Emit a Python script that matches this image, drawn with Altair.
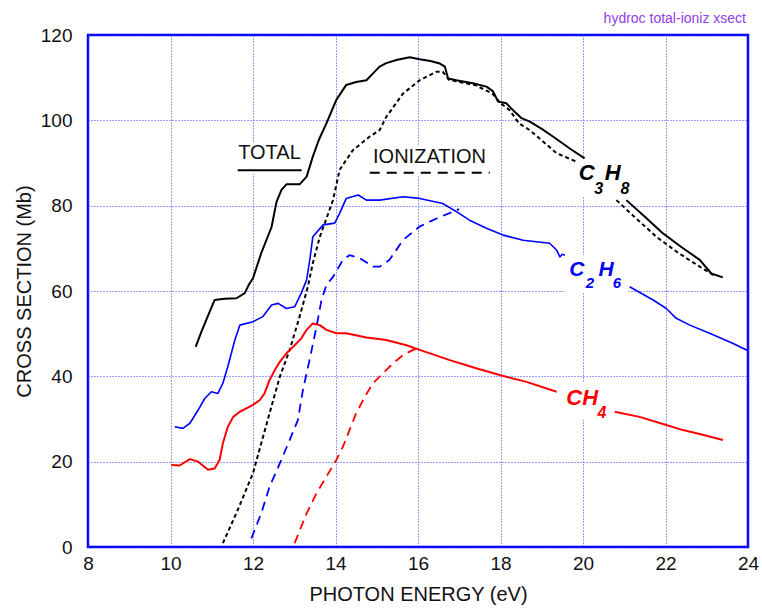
import altair as alt
import pandas as pd

# Photoabsorption (total) and photoionization cross sections of light hydrocarbons.
# Each curve is a list of (photon energy eV, cross section Mb) pairs; segments are
# broken where the formula labels sit on the curves.

c3h8_total_a = [(10.61, 46.9), (10.75, 50.5), (10.9, 54.0), (11.07, 57.9), (11.3, 58.2), (11.6, 58.3),
                (11.8, 59.5), (11.9, 61.5), (12.0, 63.0), (12.2, 68.9), (12.45, 75.0), (12.57, 80.9),
                (12.69, 83.7), (12.81, 85.0), (13.13, 85.0), (13.3, 86.8), (13.45, 91.5), (13.6, 95.5),
                (13.78, 99.3), (14.02, 104.8), (14.26, 108.3), (14.5, 109.0), (14.75, 109.4), (14.91, 111.0),
                (15.07, 112.6), (15.23, 113.4), (15.5, 114.2), (15.8, 114.8), (16.04, 114.3), (16.3, 113.9),
                (16.53, 113.3), (16.65, 112.6), (16.73, 109.8), (16.93, 109.4), (17.33, 108.7), (17.66, 107.9),
                (17.82, 106.8), (17.94, 104.4), (18.14, 104.0), (18.3, 102.4), (18.51, 100.5), (18.71, 99.7),
                (19.0, 98.0), (19.27, 96.2), (19.68, 93.4), (20.04, 91.1)]
c3h8_total_b = [(21.05, 81.3), (21.5, 77.4), (21.94, 73.5), (22.4, 70.2), (22.83, 67.3), (23.11, 64.1),
                (23.39, 63.2)]

c3h8_ion_a = [(11.27, 0.9), (11.6, 8.0), (12.0, 17.3), (12.2, 24.3), (12.4, 31.3), (12.65, 39.9),
              (12.89, 46.2), (13.13, 54.0), (13.33, 61.0), (13.45, 66.5), (13.62, 72.7), (13.94, 81.3),
              (14.1, 88.4), (14.42, 93.0), (14.83, 96.2), (15.07, 97.7), (15.23, 100.8), (15.64, 106.3),
              (16.04, 109.4), (16.45, 111.4), (16.6, 111.4), (16.75, 109.5), (17.0, 109.0), (17.4, 108.2),
              (17.8, 106.3), (18.0, 104.0), (18.22, 102.4), (18.45, 99.3), (18.71, 97.7), (19.36, 92.3),
              (19.84, 90.3)]
c3h8_ion_b = [(20.81, 81.3), (21.3, 76.9), (21.78, 72.7), (22.3, 69.0), (22.83, 65.7), (23.2, 63.5)]

c2h6_total_a = [(10.1, 28.2), (10.3, 27.8), (10.47, 29.0), (10.67, 32.1), (10.83, 34.8), (10.99, 36.4),
                (11.15, 36.0), (11.27, 38.4), (11.39, 42.3), (11.56, 48.5), (11.68, 52.0), (12.0, 52.8),
                (12.24, 54.0), (12.45, 56.7), (12.61, 57.1), (12.81, 55.9), (13.01, 56.3), (13.17, 59.5),
                (13.3, 62.6), (13.38, 67.5), (13.45, 72.7), (13.7, 75.5), (13.98, 75.9), (14.1, 78.2),
                (14.26, 81.7), (14.55, 82.5), (14.75, 81.3), (15.07, 81.3), (15.64, 82.1), (16.04, 81.7),
                (16.6, 80.5), (16.93, 78.6), (17.25, 76.6), (17.66, 74.7), (18.06, 73.1), (18.55, 71.9),
                (19.19, 71.2), (19.36, 69.6), (19.44, 68.0), (19.5, 68.6), (19.56, 68.4)]
c2h6_total_b = [(21.13, 61.0), (21.7, 57.9), (22.02, 55.9), (22.26, 53.6), (22.59, 52.0), (23.07, 50.1),
                (23.64, 47.7), (24.0, 46.0)]

c2h6_ion = [(11.96, 2.0), (12.2, 7.9), (12.4, 14.1), (12.65, 19.6), (12.89, 25.1), (13.09, 29.8),
            (13.21, 36.8), (13.37, 43.8), (13.54, 51.6), (13.66, 57.9), (13.78, 61.4), (13.94, 63.3),
            (14.18, 67.3), (14.34, 68.4), (14.59, 67.7), (14.91, 65.7), (15.07, 65.7), (15.31, 67.3),
            (15.64, 72.0), (16.04, 75.1), (16.45, 77.0), (16.85, 78.6), (17.0, 79.2)]

ch4_total_a = [(10.02, 19.2), (10.22, 19.1), (10.47, 20.6), (10.67, 20.0), (10.91, 18.1), (11.07, 18.4),
               (11.19, 20.4), (11.27, 24.3), (11.39, 28.2), (11.52, 30.5), (11.68, 31.7), (11.84, 32.5),
               (12.0, 33.3), (12.16, 34.4), (12.28, 36.0), (12.4, 39.1), (12.53, 41.5), (12.65, 43.4),
               (12.81, 45.4), (13.01, 47.3), (13.17, 48.9), (13.3, 50.9), (13.45, 52.4), (13.62, 52.0),
               (13.78, 50.9), (14.02, 50.1), (14.26, 50.1), (14.75, 49.1), (15.23, 48.5), (15.72, 47.3),
               (16.04, 46.2), (16.77, 43.8), (17.41, 41.9), (17.98, 40.3), (18.63, 38.7), (19.36, 36.4)]
ch4_total_b = [(20.77, 31.7), (21.37, 30.5), (22.02, 28.6), (22.42, 27.4), (22.83, 26.5), (23.39, 25.1)]

ch4_ion = [(13.01, 0.9), (13.3, 7.9), (13.54, 12.6), (13.78, 16.5), (14.02, 20.4), (14.18, 23.5),
           (14.34, 27.4), (14.5, 31.3), (14.71, 35.2), (14.91, 38.4), (15.15, 40.7), (15.39, 43.0),
           (15.64, 45.0), (15.88, 46.2), (16.0, 46.5)]

x_ticks = list(range(8, 25, 2))
y_ticks = list(range(0, 121, 20))

BLUE = "#0000ff"
RED = "#ff0000"
BLACK = "#000000"
FONT = "Liberation Sans"


def frame(points, name):
    return pd.DataFrame({
        "energy": [p[0] for p in points],
        "xsect": [p[1] for p in points],
        "i": list(range(len(points))),
        "curve": name,
    })


x_scale = alt.Scale(domain=[8, 24], nice=False, zero=False)
y_scale = alt.Scale(domain=[0, 120], nice=False)

common_axis = dict(grid=True, gridColor="#3a3aff", gridDash=[1, 2], gridWidth=1, domain=False,
                   ticks=False, labelFontSize=19, labelFont=FONT, labelColor="#111",
                   titleFont=FONT, titleFontSize=20, titleFontWeight="normal", titleColor="#111",
                   labelFlush=False)
x_axis = alt.Axis(values=x_ticks, title="PHOTON ENERGY (eV)", labelPadding=7, titlePadding=11,
                  **common_axis)
y_axis = alt.Axis(values=y_ticks, title="CROSS SECTION (Mb)", labelPadding=16, titlePadding=6,
                  **common_axis)


def X(field):
    return alt.X(field, scale=x_scale, axis=x_axis)


def Y(field):
    return alt.Y(field, scale=y_scale, axis=y_axis)


def curve(points, name, color, width, dash=None):
    kw = dict(color=color, strokeWidth=width, clip=True, strokeJoin="round")
    if dash:
        kw["strokeDash"] = dash
    return alt.Chart(frame(points, name)).mark_line(**kw).encode(
        x=X("energy:Q"), y=Y("xsect:Q"), order="i:O")


# white backing behind the text labels
boxes = pd.DataFrame({
    "x1": [11.58, 14.78, 19.85, 19.58, 19.43],
    "x2": [13.23, 17.81, 21.2, 21.1, 20.7],
    "y1": [87.4, 86.9, 82.0, 59.5, 29.8],
    "y2": [94.7, 94.2, 91.0, 68.4, 38.7],
})
box_layer = alt.Chart(boxes).mark_rect(color="white").encode(
    x=X("x1:Q"), x2="x2:Q", y=Y("y1:Q"), y2="y2:Q")

# legend words with their line-style underlines
legend_words = pd.DataFrame({"energy": [12.40, 16.28], "xsect": [92.3, 91.5],
                             "label": ["TOTAL", "IONIZATION"]})
legend_text = alt.Chart(legend_words).mark_text(font=FONT, fontSize=20, color="#111",
                                                baseline="middle", align="center").encode(
    x=X("energy:Q"), y=Y("xsect:Q"), text="label:N")

solid_key = pd.DataFrame({"energy": [11.63, 13.18], "xsect": [88.3, 88.3], "i": [0, 1]})
dash_key = pd.DataFrame({"energy": [14.83, 17.74], "xsect": [87.7, 87.7], "i": [0, 1]})
solid_key_layer = alt.Chart(solid_key).mark_line(color=BLACK, strokeWidth=2).encode(
    x=X("energy:Q"), y=Y("xsect:Q"), order="i:O")
dash_key_layer = alt.Chart(dash_key).mark_line(color=BLACK, strokeWidth=2, strokeDash=[10, 7]).encode(
    x=X("energy:Q"), y=Y("xsect:Q"), order="i:O")

# chemical formula labels: main glyphs and subscripts
formula_main = pd.DataFrame({
    "energy": [20.09, 20.72, 19.85, 20.56, 19.98],
    "xsect": [87.7, 87.7, 64.9, 64.9, 34.9],
    "label": ["C", "H", "C", "H", "CH"],
    "col": [BLACK, BLACK, BLUE, BLUE, RED],
    "size": [22, 22, 21, 21, 22],
})
formula_sub = pd.DataFrame({
    "energy": [20.38, 21.02, 20.17, 20.82, 20.46],
    "xsect": [84.0, 84.0, 61.8, 61.8, 31.5],
    "label": ["3", "8", "2", "6", "4"],
    "col": [BLACK, BLACK, BLUE, BLUE, RED],
    "size": [16, 16, 15, 15, 16],
})
main_layer = alt.Chart(formula_main).mark_text(font=FONT, fontWeight="bold", fontStyle="italic",
                                               baseline="middle", align="center").encode(
    x=X("energy:Q"), y=Y("xsect:Q"), text="label:N", color=alt.Color("col:N", scale=None),
    size=alt.Size("size:Q", scale=None))
sub_layer = alt.Chart(formula_sub).mark_text(font=FONT, fontWeight="bold", fontStyle="italic",
                                             baseline="middle", align="center").encode(
    x=X("energy:Q"), y=Y("xsect:Q"), text="label:N", color=alt.Color("col:N", scale=None),
    size=alt.Size("size:Q", scale=None))

layers = [
    box_layer,
    curve(ch4_ion, "CH4 ion", RED, 1.8, [9, 6]),
    curve(c2h6_ion, "C2H6 ion", BLUE, 1.8, [9, 6]),
    curve(c3h8_ion_a, "C3H8 ion", BLACK, 2, [4, 3]),
    curve(c3h8_ion_b, "C3H8 ion b", BLACK, 2, [4, 3]),
    curve(ch4_total_a, "CH4", RED, 2),
    curve(ch4_total_b, "CH4 b", RED, 2),
    curve(c2h6_total_a, "C2H6", BLUE, 1.6),
    curve(c2h6_total_b, "C2H6 b", BLUE, 1.6),
    curve(c3h8_total_a, "C3H8", BLACK, 2),
    curve(c3h8_total_b, "C3H8 b", BLACK, 2),
    legend_text, solid_key_layer, dash_key_layer, main_layer, sub_layer,
]

chart = alt.layer(*layers).properties(
    width=660,
    height=512,
    padding={"left": 88, "top": 35, "right": 14, "bottom": 61},
    autosize=alt.AutoSizeParams(type="none"),
    title=alt.TitleParams("hydroc total-ioniz xsect", anchor="end", frame="group", fontSize=14,
                          font=FONT, fontWeight="normal", color="#9040e8", offset=0, dx=-2),
).configure(background="white").configure_view(stroke=BLUE, strokeWidth=2.5)

chart.save("out.html", embed_options={"renderer": "svg", "actions": False})
